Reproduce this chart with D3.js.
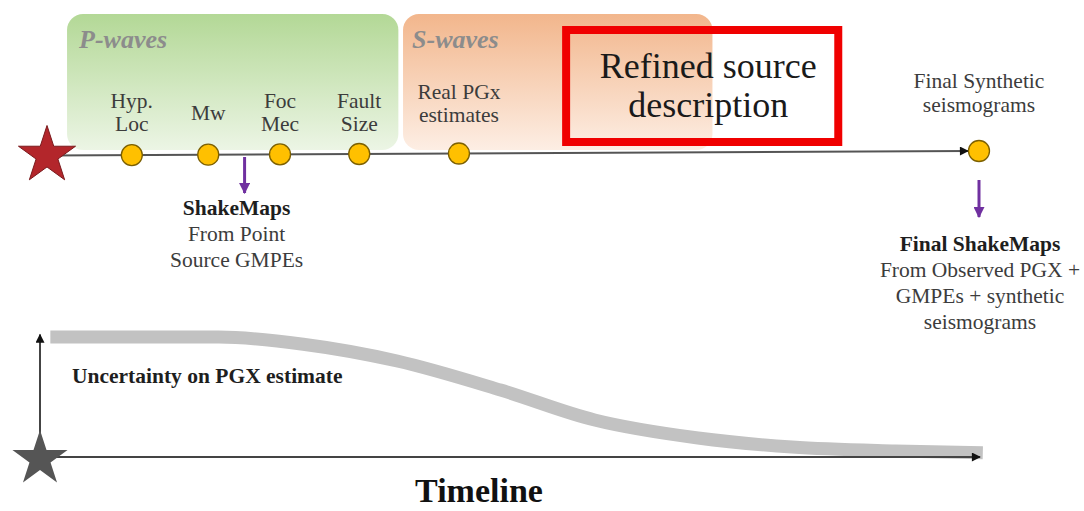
<!DOCTYPE html>
<html><head><meta charset="utf-8">
<script src="https://cdn.jsdelivr.net/npm/d3@7"></script>
<style>
html,body{margin:0;padding:0;background:#fff;}
svg{display:block;font-family:"Liberation Serif","Times New Roman",serif;}
</style></head>
<body><svg id="c" width="1084" height="511"></svg>
<script>
// ---- data ----
const phaseNames = ["P-waves", "S-waves"];
const phaseStart = [2.15, 38.2];
const phaseEnd = [37.7, 71.4];
const nodeLabels = [["Hyp.", "Loc"], ["Mw"], ["Foc", "Mec"], ["Fault", "Size"], ["Real PGx", "estimates"], ["Final Synthetic", "seismograms"]];
const nodeTimes = [9.1, 17.3, 25.0, 33.5, 44.2, 100];
const refinedLabel = ["Refined source", "description"];
const refinedStart = 55.7, refinedEnd = 84.9;
const shakeTimes = [21.2, 100];
const shakeTitles = ["ShakeMaps", "Final ShakeMaps"];
const shakeLines = [["From Point", "Source GMPEs"], ["From Observed PGX +", "GMPEs + synthetic", "seismograms"]];
const uncT = [1.1, 19, 28, 38, 49, 59, 70, 80, 91, 100.3];
const uncV = [1.0, 1.0, 0.94, 0.8, 0.558, 0.308, 0.158, 0.083, 0.05, 0.035];
const uncLabel = "Uncertainty on PGX estimate";
const axisTitle = "Timeline";

// ---- scales ----
const svg = d3.select("#c");
const tlX = d3.scaleLinear().domain([0, 100]).range([47, 979]);
const tlY = d3.scaleLinear().domain([0, 100]).range([155.5, 151]);
const bX = d3.scaleLinear().domain([0, 100]).range([40, 980]);
const bY = d3.scaleLinear().domain([0, 1]).range([457, 337]);

const defs = svg.append("defs");
function grad(id, c1, c2) {
  const g = defs.append("linearGradient").attr("id", id).attr("x1", 0).attr("y1", 0).attr("x2", 0).attr("y2", 1);
  g.append("stop").attr("offset", "0%").attr("stop-color", c1);
  g.append("stop").attr("offset", "100%").attr("stop-color", c2);
}
grad("gP", "#b3d896", "#ecf5e5");
grad("gS", "#f2b68c", "#fdeee4");
function marker(id, color, w, h) {
  defs.append("marker").attr("id", id).attr("viewBox", "0 0 10 10").attr("refX", 9).attr("refY", 5)
    .attr("markerWidth", w).attr("markerHeight", h).attr("markerUnits", "userSpaceOnUse").attr("orient", "auto")
    .append("path").attr("d", "M0,0L10,5L0,10Z").attr("fill", color);
}
marker("mBlack", "#111", 11, 9);
marker("mPurple", "#7030a0", 11, 11);

const small = 21.5;

// ---- phase boxes ----
const boxTop = 14, boxBottom = 150;
phaseNames.forEach((p, i) => {
  svg.append("rect").attr("x", tlX(phaseStart[i])).attr("y", boxTop)
    .attr("width", tlX(phaseEnd[i]) - tlX(phaseStart[i])).attr("height", boxBottom - boxTop)
    .attr("rx", 16).attr("fill", i === 0 ? "url(#gP)" : "url(#gS)");
  svg.append("text").attr("x", tlX(phaseStart[i]) + (i === 0 ? 12 : 9)).attr("y", 48)
    .attr("font-size", 26).attr("font-style", "italic").attr("font-weight", "bold")
    .attr("fill", "#8c8c8c").text(p);
});

// ---- refined box ----
svg.append("rect").attr("x", tlX(refinedStart)).attr("y", 30)
  .attr("width", tlX(refinedEnd) - tlX(refinedStart)).attr("height", 112)
  .attr("fill", "none").attr("stroke", "#f00000").attr("stroke-width", 8);
refinedLabel.forEach((t, i) => {
  svg.append("text").attr("x", (tlX(refinedStart) + tlX(refinedEnd)) / 2 + 6).attr("y", 78 + i * 39)
    .attr("text-anchor", "middle").attr("font-size", 36).attr("fill", "#1a1a1a").text(t);
});

// ---- main timeline ----
svg.append("line").attr("x1", tlX(0)).attr("y1", tlY(0)).attr("x2", tlX(100) - 11).attr("y2", tlY(100))
  .attr("stroke", "#555").attr("stroke-width", 2).attr("marker-end", "url(#mBlack)");

const star = d3.symbol().type(d3.symbolStar).size(30 * 30 / 0.8908);
svg.append("path").attr("d", star).attr("transform", `translate(${tlX(0)},${tlY(0)})`)
  .attr("fill", "#b3262b").attr("stroke", "#7a1a1d").attr("stroke-width", 1);

nodeTimes.forEach((t, i) => {
  svg.append("circle").attr("cx", tlX(t)).attr("cy", tlY(t)).attr("r", 10.5)
    .attr("fill", "#ffc000").attr("stroke", "#7d6000").attr("stroke-width", 1.3);
  const lines = nodeLabels[i];
  let base;
  if (i < 4) base = lines.length === 1 ? 120 : 108;
  else if (i === 4) base = 99;
  else base = 88;
  const lh = i === 5 ? 24 : 23;
  lines.forEach((l, j) => {
    svg.append("text").attr("x", tlX(t)).attr("y", base + j * lh).attr("text-anchor", "middle")
      .attr("font-size", small).attr("fill", "#3c3c3c").text(l);
  });
});

// ---- shakemap arrows ----
const arrowTop = [157, 180], arrowBot = [193, 217], textBase = [215, 251], textDx = [-8, 1];
shakeTimes.forEach((t, i) => {
  svg.append("line").attr("x1", tlX(t)).attr("y1", arrowTop[i]).attr("x2", tlX(t)).attr("y2", arrowBot[i])
    .attr("stroke", "#7030a0").attr("stroke-width", 3).attr("marker-end", "url(#mPurple)");
  const cx = tlX(t) + textDx[i];
  svg.append("text").attr("x", cx).attr("y", textBase[i]).attr("text-anchor", "middle")
    .attr("font-size", small).attr("font-weight", "bold").attr("fill", "#1e1e1e").text(shakeTitles[i]);
  shakeLines[i].forEach((l, j) => {
    svg.append("text").attr("x", cx).attr("y", textBase[i] + 26 * (j + 1)).attr("text-anchor", "middle")
      .attr("font-size", small).attr("fill", "#3c3c3c").text(l);
  });
});

// ---- bottom uncertainty panel ----
const curve = d3.line().x((d, i) => bX(uncT[i])).y(d => bY(d)).curve(d3.curveMonotoneX);
svg.append("path").attr("d", curve(uncV)).attr("fill", "none")
  .attr("stroke", "#c2c2c2").attr("stroke-width", 13);

svg.append("line").attr("x1", bX(0)).attr("y1", bY(0)).attr("x2", bX(100)).attr("y2", bY(0))
  .attr("stroke", "#444").attr("stroke-width", 2).attr("marker-end", "url(#mBlack)");
svg.append("line").attr("x1", bX(0)).attr("y1", bY(0) + 2).attr("x2", bX(0)).attr("y2", bY(1.02))
  .attr("stroke", "#444").attr("stroke-width", 2).attr("marker-end", "url(#mBlack)");
svg.append("path").attr("d", d3.symbol().type(d3.symbolStar).size(29 * 29 / 0.8908))
  .attr("transform", `translate(${bX(0)},${bY(0) + 2})`).attr("fill", "#555");

svg.append("text").attr("x", 72).attr("y", 383).attr("font-size", small).attr("font-weight", "bold")
  .attr("fill", "#1e1e1e").text(uncLabel);
svg.append("text").attr("x", 479).attr("y", 502).attr("text-anchor", "middle").attr("font-size", 34)
  .attr("font-weight", "bold").attr("fill", "#111").text(axisTitle);
</script></body></html>
